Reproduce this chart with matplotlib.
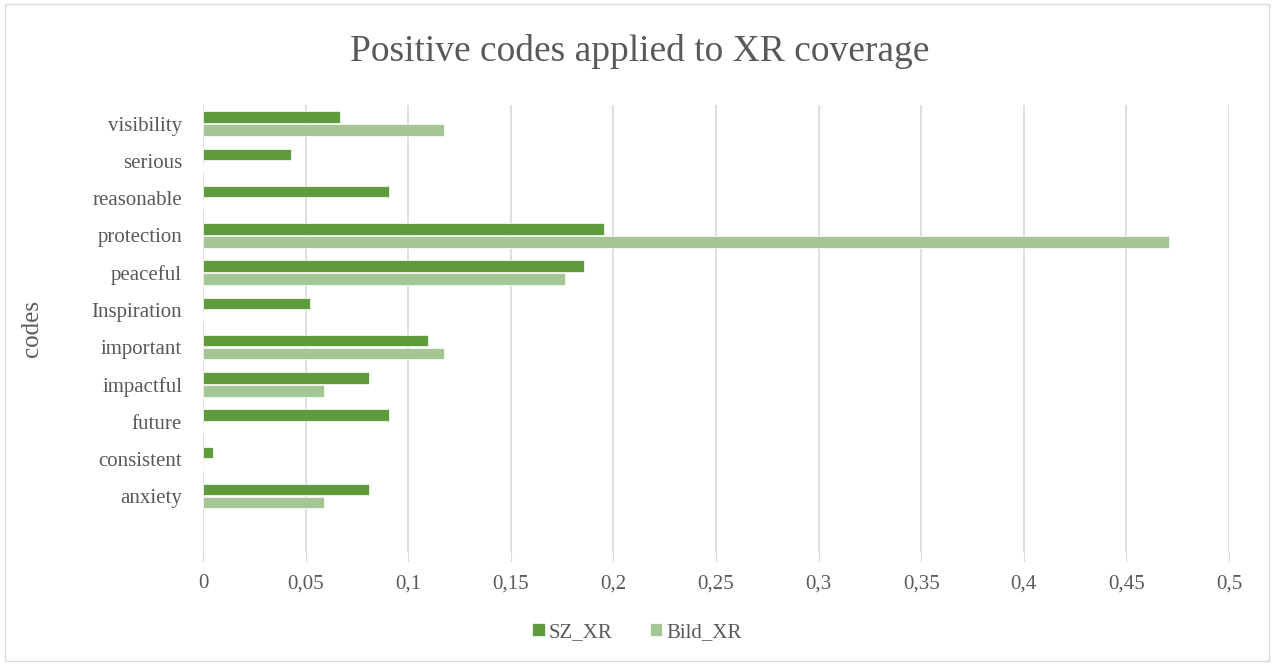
import numpy as np
import matplotlib.pyplot as plt
from matplotlib.patches import Rectangle

codes = ['visibility', 'serious', 'reasonable', 'protection', 'peaceful', 'Inspiration',
         'important', 'impactful', 'future', 'consistent', 'anxiety']
sz_xr = [0.0667, 0.0429, 0.0905, 0.1952, 0.1857, 0.0524, 0.1095, 0.0810, 0.0905, 0.0048, 0.0810]
bild_xr = [0.1176, 0, 0, 0.4706, 0.1765, 0, 0.1176, 0.0588, 0, 0, 0.0588]
xticks = [0, 0.05, 0.1, 0.15, 0.2, 0.25, 0.3, 0.35, 0.4, 0.45, 0.5]

dark = '#5f9a3d'
light = '#a3c693'
txt = '#595959'
plt.rcParams['font.family'] = ['Liberation Serif', 'DejaVu Serif']

fig = plt.figure(figsize=(12.74, 6.64), dpi=100)
fig.patches.append(Rectangle((0.004, 0.004), 0.992, 0.99, transform=fig.transFigure,
                             fill=False, edgecolor='#d9d9d9', lw=1))
ax = fig.add_axes([0.1593, 0.1687, 0.8054, 0.6733])

y = np.arange(len(codes))
h = 0.31
ax.barh(y - h / 2 - 0.02, sz_xr, height=h, color=dark, label='SZ_XR', edgecolor='white', lw=0.5)
ax.barh(y + h / 2 + 0.02, bild_xr, height=h, color=light, label='Bild_XR', edgecolor='white', lw=0.5)

ax.set_ylim(len(codes) + 0.5, -0.5)
ax.set_yticks(y)
ax.set_yticklabels(codes, fontsize=15, color=txt)
ax.set_xlim(0, 0.5)
ax.set_xticks(xticks)
ax.set_xticklabels([f'{t:g}'.replace('.', ',') for t in xticks], fontsize=15, color=txt)
ax.tick_params(axis='y', length=0, pad=15)
ax.tick_params(axis='x', length=7, color='#d9d9d9', pad=9)
ax.grid(axis='x', color='#d9d9d9', lw=1.2)
ax.set_axisbelow(True)
for s in ax.spines.values():
    s.set_visible(False)

ax.set_ylabel('codes', fontsize=18, color=txt)
ax.yaxis.set_label_coords(-0.156, 0.5)
fig.text(0.502, 0.922, 'Positive codes applied to XR coverage', ha='center', va='center',
         fontsize=27, color=txt)
fig.legend(loc='center', bbox_to_anchor=(0.5, 0.048), ncol=2, frameon=False, fontsize=15,
           labelcolor=txt, handlelength=0.6, handleheight=0.6, handletextpad=0.2, columnspacing=1.8)

fig.savefig('out.png')
